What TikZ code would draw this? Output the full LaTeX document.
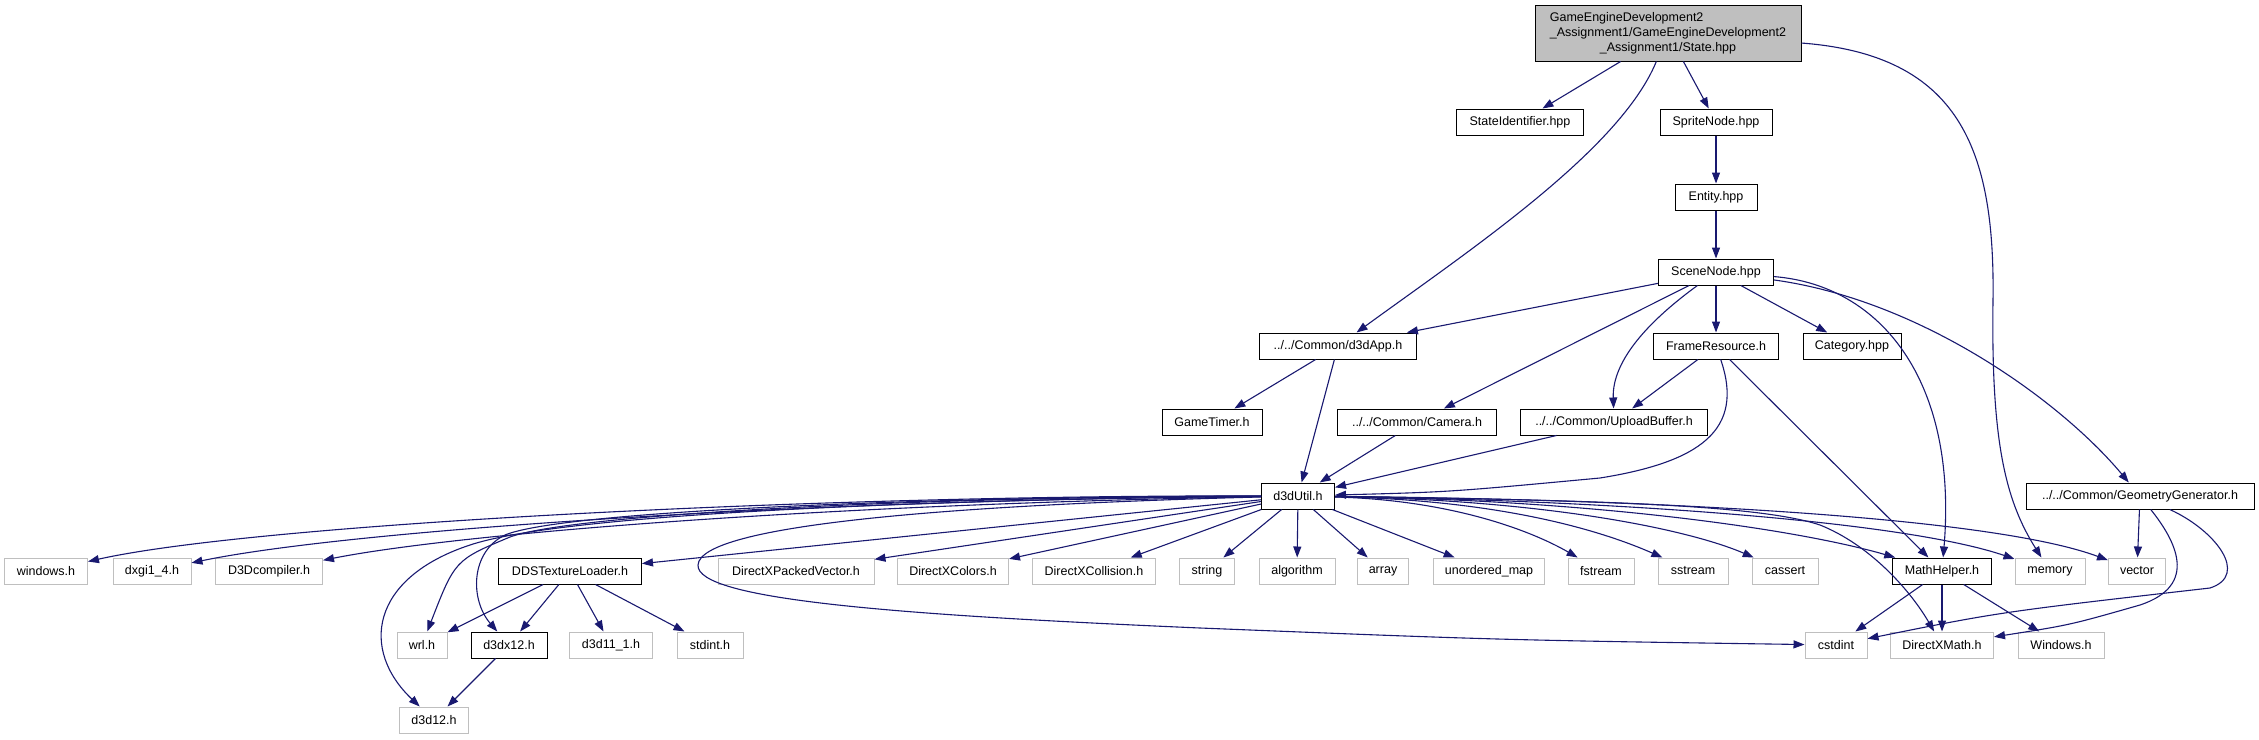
\documentclass[tikz,border=0pt]{standalone}
\usepackage{fontspec}
\setmainfont{Liberation Sans}
\usetikzlibrary{arrows.meta}
\definecolor{edgeblue}{RGB}{25,25,112}
\definecolor{extgray}{RGB}{191,191,191}

\begin{document}
\begin{tikzpicture}[x=1pt,y=-1pt,
  box/.style={draw=black, line width=1pt, fill=white, minimum height=26pt, inner sep=0pt, font=\fontsize{12.5}{15}\selectfont},
  ext/.style={box, draw=extgray},
  dep/.style={draw=edgeblue, line width=1.1pt, -{Triangle[length=11pt,width=8pt]}}]
  \useasboundingbox (0,0) rectangle (2259,739);

  \node[box, fill=extgray, minimum width=266pt, minimum height=56pt] (state) at (1668,33)
    {\begin{tabular}{@{}l@{}}GameEngineDevelopment2\\\_Assignment1/GameEngineDevelopment2\\\multicolumn{1}{@{}c@{}}{\_Assignment1/State.hpp}\end{tabular}};
  \node[box, minimum width=127pt] (stateid) at (1520,122) {StateIdentifier.hpp};
  \node[box, minimum width=112pt] (sprite) at (1716,122) {SpriteNode.hpp};
  \node[box, minimum width=82pt] (entity) at (1716,197) {Entity.hpp};
  \node[box, minimum width=115pt] (scene) at (1716,272) {SceneNode.hpp};
  \node[box, minimum width=157pt] (d3dapp) at (1338,346) {../../Common/d3dApp.h};
  \node[box, minimum width=125pt] (frameres) at (1716,346) {FrameResource.h};
  \node[box, minimum width=98pt] (category) at (1852,346) {Category.hpp};
  \node[box, minimum width=100pt] (gametimer) at (1212,422) {GameTimer.h};
  \node[box, minimum width=159pt] (camera) at (1417,422) {../../Common/Camera.h};
  \node[box, minimum width=187pt] (upload) at (1614,422) {../../Common/UploadBuffer.h};
  \node[box, minimum width=73pt] (d3dutil) at (1298,496) {d3dUtil.h};
  \node[box, minimum width=228pt] (geomgen) at (2140,496) {../../Common/GeometryGenerator.h};

  \node[ext, minimum width=83pt] (windowsh) at (46,571) {windows.h};
  \node[ext, minimum width=78pt] (dxgi) at (152,571) {dxgi1\_4.h};
  \node[ext, minimum width=107pt] (d3dcomp) at (269,571) {D3Dcompiler.h};
  \node[box, minimum width=143pt] (ddstex) at (570,571) {DDSTextureLoader.h};
  \node[ext, minimum width=156pt] (packedvec) at (796,571) {DirectXPackedVector.h};
  \node[ext, minimum width=111pt] (dxcolors) at (953,571) {DirectXColors.h};
  \node[ext, minimum width=123pt] (dxcollision) at (1094,571) {DirectXCollision.h};
  \node[ext, minimum width=55pt] (string) at (1207,571) {string};
  \node[ext, minimum width=76pt] (algorithm) at (1297,571) {algorithm};
  \node[ext, minimum width=51pt] (array) at (1383,571) {array};
  \node[ext, minimum width=111pt] (umap) at (1489,571) {unordered\_map};
  \node[ext, minimum width=66pt] (fstream) at (1601,571) {fstream};
  \node[ext, minimum width=70pt] (sstream) at (1693,571) {sstream};
  \node[ext, minimum width=66pt] (cassert) at (1785,571) {cassert};
  \node[box, minimum width=99pt] (mathhelper) at (1942,571) {MathHelper.h};
  \node[ext, minimum width=70pt] (memory) at (2050,571) {memory};
  \node[ext, minimum width=57pt] (vector) at (2137,571) {vector};

  \node[ext, minimum width=50pt] (wrl) at (422,645) {wrl.h};
  \node[box, minimum width=76pt] (d3dx12) at (509,645) {d3dx12.h};
  \node[ext, minimum width=83pt] (d3d11) at (611,645) {d3d11\_1.h};
  \node[ext, minimum width=66pt] (stdint) at (710,645) {stdint.h};
  \node[ext, minimum width=62pt] (cstdint) at (1836,645) {cstdint};
  \node[ext, minimum width=103pt] (dxmath) at (1942,645) {DirectXMath.h};
  \node[ext, minimum width=86pt] (winh) at (2061,645) {Windows.h};
  \node[ext, minimum width=69pt] (d3d12) at (434,720) {d3d12.h};

  \draw[dep] (state) -- (stateid);
  \draw[dep] (state) -- (sprite);
  \draw[dep] (state) .. controls (1620,150) and (1470,250) .. (d3dapp);
  \draw[dep] (state) .. controls (1960,55) and (1995,150) .. (1993,300) .. controls (1991,440) and (2005,500) .. (memory);
  \draw[dep] (sprite) -- (entity);
  \draw[dep] (entity) -- (scene);
  \draw[dep] (scene) -- (d3dapp);
  \draw[dep] (scene) -- (camera);
  \draw[dep] (scene) -- (frameres);
  \draw[dep] (scene) -- (category);
  \draw[dep] (scene) .. controls (1650,320) and (1612,360) .. (upload);
  \draw[dep] (scene) .. controls (1880,285) and (1958,380) .. (mathhelper);
  \draw[dep] (scene) .. controls (1920,300) and (2060,400) .. (geomgen);
  \draw[dep] (d3dapp) -- (gametimer);
  \draw[dep] (d3dapp) -- (d3dutil);
  \draw[dep] (camera) -- (d3dutil);
  \draw[dep] (upload) -- (d3dutil);
  \draw[dep] (frameres) -- (upload);
  \draw[dep] (frameres) -- (mathhelper);
  \draw[dep] (frameres) .. controls (1745,430) and (1700,462) .. (1600,478) .. controls (1450,492) .. (d3dutil);

  \draw[dep] (d3dutil) .. controls (800,495) and (250,525) .. (windowsh);
  \draw[dep] (d3dutil) .. controls (800,500) and (350,530) .. (dxgi);
  \draw[dep] (d3dutil) .. controls (800,505) and (450,535) .. (d3dcomp);
  \foreach \t in {ddstex,packedvec,dxcolors,dxcollision,string,algorithm,array,umap}
    \draw[dep] (d3dutil) -- (\t);
  \draw[dep] (d3dutil) .. controls (1450,500) and (1530,530) .. (fstream);
  \draw[dep] (d3dutil) .. controls (1500,500) and (1600,530) .. (sstream);
  \draw[dep] (d3dutil) .. controls (1550,500) and (1690,530) .. (cassert);
  \draw[dep] (d3dutil) .. controls (1600,500) and (1800,530) .. (mathhelper);
  \draw[dep] (d3dutil) .. controls (1600,500) and (1900,520) .. (memory);
  \draw[dep] (d3dutil) .. controls (1700,500) and (2000,520) .. (vector);
  \draw[dep] (d3dutil) .. controls (900,497) and (570,515) .. (510,537) .. controls (455,560) .. (wrl);
  \draw[dep] (d3dutil) .. controls (900,497) and (560,512) .. (505,535) .. controls (470,552) and (470,600) .. (d3dx12);
  \draw[dep] (d3dutil) .. controls (900,500) and (560,515) .. (470,545) .. controls (370,578) and (360,650) .. (d3d12);
  \draw[dep] (d3dutil) .. controls (950,505) and (700,525) .. (698,565) .. controls (696,600) and (900,615) .. (1200,628) .. controls (1500,640) .. (cstdint);
  \draw[dep] (d3dutil) .. controls (1600,500) and (1760,505) .. (1820,525) .. controls (1870,545) and (1910,590) .. (dxmath);

  \foreach \t in {wrl,d3dx12,d3d11,stdint}
    \draw[dep] (ddstex) -- (\t);
  \draw[dep] (d3dx12) -- (d3d12);

  \foreach \t in {cstdint,dxmath,winh}
    \draw[dep] (mathhelper) -- (\t);
  \draw[dep] (geomgen) -- (vector);
  \draw[dep] (geomgen) .. controls (2175,540) and (2200,585) .. (2140,605) .. controls (2070,625) .. (dxmath);
  \draw[dep] (geomgen) .. controls (2215,530) and (2250,575) .. (2210,588) .. controls (2000,612) .. (cstdint);
\end{tikzpicture}
\end{document}
